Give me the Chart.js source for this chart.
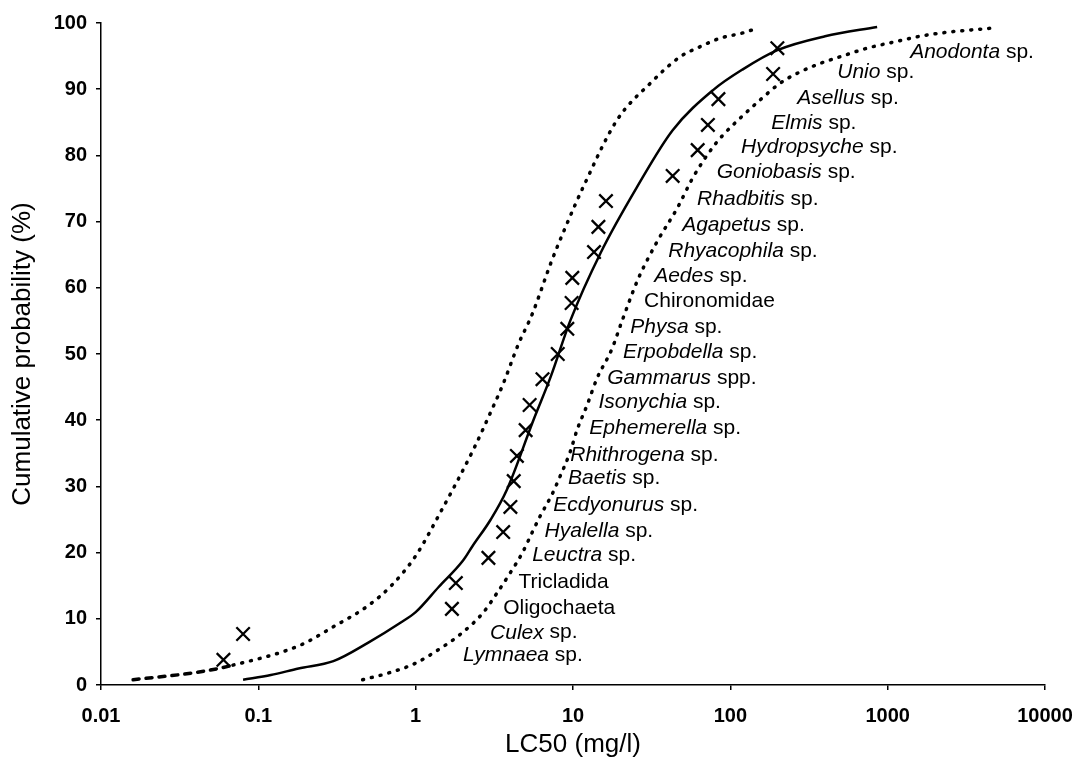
<!DOCTYPE html>
<html>
<head>
<meta charset="utf-8">
<script src="https://cdn.jsdelivr.net/npm/chart.js@4.4.1/dist/chart.umd.min.js"></script>
<style>
  html, body { margin: 0; padding: 0; background: #fff; }
  #wrap { width: 1080px; height: 772px; }
</style>
</head>
<body>
<div id="wrap"><canvas id="myChart" width="1080" height="772"></canvas></div>
<script>
// axis ticks
var xTicks = [0.01, 0.1, 1, 10, 100, 1000, 10000];
var xTickLabels = ['0.01', '0.1', '1', '10', '100', '1000', '10000'];

// observed LC50 values (crosses)
var lc50 = [0.06, 0.08, 1.7, 1.8, 2.9, 3.6, 4.0, 4.2, 4.4, 5.0, 5.3, 6.4, 8.0, 9.2, 9.8, 9.9, 13.6, 14.5, 16.2, 43, 62, 72, 84, 187, 199];
var cumProb = [3.8, 7.7, 11.5, 15.4, 19.2, 23.1, 26.9, 30.8, 34.6, 38.5, 42.3, 46.2, 50.0, 53.8, 57.7, 61.5, 65.4, 69.2, 73.1, 76.9, 80.8, 84.6, 88.5, 92.3, 96.2];

// fitted curve (solid)
var fitX = [0.08, 0.12, 0.18, 0.3, 0.5, 0.8, 1, 1.4, 2, 2.3, 3, 3.8, 5.6, 7.2, 9.6, 15, 25.5, 43, 78, 120, 199, 400, 857];
var fitY = [0.8, 1.5, 2.5, 3.6, 6.4, 9.4, 11, 14.8, 18.8, 21, 25, 29.5, 40, 46.5, 55, 65.3, 75.2, 83.8, 89.9, 93, 95.9, 98, 99.4];

// lower confidence limit (left dotted)
var lowX = [0.016, 0.043, 0.069, 0.184, 0.3, 0.5, 0.7, 1.0, 1.43, 2.32, 2.97, 3.6, 4.5, 5.5, 7.3, 8.9, 11.6, 19, 31, 48, 64, 86, 120, 148];
var lowY = [0.8, 2.0, 3.0, 6.0, 8.8, 12, 15, 19.5, 26, 35.5, 41, 45.5, 51.5, 56, 64, 69, 75.2, 85.3, 90.9, 94.9, 96.4, 97.7, 98.5, 99.2];

// upper confidence limit (right dotted)
var upX = [0.46, 0.67, 1.0, 1.43, 1.91, 2.68, 3.29, 3.98, 4.75, 5.49, 6.18, 7.36, 8.2, 9.59, 10.6, 12.3, 14.2, 17.7, 20.5, 25.9, 34.3, 45.9, 58, 77.8, 90, 120, 155, 207, 266, 373, 499, 741, 1084, 1611, 2388, 4490];
var upY = [0.8, 1.8, 3.3, 5.5, 7.6, 10.9, 13.9, 16.9, 19.9, 23, 25.5, 28.8, 31.3, 35.2, 38.5, 42.3, 46.3, 50.8, 55, 61.3, 67, 72, 76.7, 81.3, 83.1, 86, 88.4, 90.9, 92.4, 93.9, 94.9, 96.2, 97.1, 98, 98.6, 99.2];

// species labels, bottom to top: [italic part, plain part]
var speciesNames = [
    ['Lymnaea', ' sp.'], ['Culex', ' sp.'], ['', 'Oligochaeta'], ['', 'Tricladida'],
    ['Leuctra', ' sp.'], ['Hyalella', ' sp.'], ['Ecdyonurus', ' sp.'], ['Baetis', ' sp.'],
    ['Rhithrogena', ' sp.'], ['Ephemerella', ' sp.'], ['Isonychia', ' sp.'], ['Gammarus', ' spp.'],
    ['Erpobdella', ' sp.'], ['Physa', ' sp.'], ['', 'Chironomidae'], ['Aedes', ' sp.'],
    ['Rhyacophila', ' sp.'], ['Agapetus', ' sp.'], ['Rhadbitis', ' sp.'], ['Goniobasis', ' sp.'],
    ['Hydropsyche', ' sp.'], ['Elmis', ' sp.'], ['Asellus', ' sp.'], ['Unio', ' sp.'], ['Anodonta', ' sp.']
];
var labelX = [2.0, 2.97, 3.6, 4.5, 5.5, 6.6, 7.5, 9.3, 9.6, 12.7, 14.5, 16.5, 20.8, 23.1, 28.3, 32.8, 40.3, 49.4, 61.5, 82, 117, 182, 266, 478, 1390];
var labelY = [4.5, 7.9, 11.6, 15.6, 19.6, 23.3, 27.2, 31.3, 34.7, 38.8, 42.7, 46.4, 50.3, 54.1, 58.0, 61.8, 65.6, 69.5, 73.4, 77.5, 81.3, 84.9, 88.7, 92.6, 95.6];

function toPoints(xs, ys) {
    var pts = [];
    for (var i = 0; i < xs.length; i++) {
        pts.push({ x: xs[i], y: ys[i] });
    }
    return pts;
}

var FONT = '"Liberation Sans", Arial, sans-serif';

// draws the species names next to the curves
var speciesLabels = {
    id: 'speciesLabels',
    afterDatasetsDraw: function(chart) {
        var ctx = chart.ctx;
        var xs = chart.scales.x;
        var ys = chart.scales.y;
        ctx.save();
        ctx.fillStyle = '#000';
        ctx.textBaseline = 'middle';
        ctx.textAlign = 'left';
        for (var i = 0; i < speciesNames.length; i++) {
            var px = xs.getPixelForValue(labelX[i]);
            var py = ys.getPixelForValue(labelY[i]);
            var it = speciesNames[i][0];
            var rest = speciesNames[i][1];
            if (it) {
                ctx.font = 'italic 21px ' + FONT;
                ctx.fillText(it, px, py);
                px += ctx.measureText(it).width;
            }
            ctx.font = '21px ' + FONT;
            ctx.fillText(rest, px, py);
        }
        ctx.restore();
    }
};

var bgWhite = {
    id: 'bgWhite',
    beforeDraw: function(chart) {
        var ctx = chart.ctx;
        ctx.save();
        ctx.fillStyle = '#fff';
        ctx.fillRect(0, 0, chart.width, chart.height);
        ctx.restore();
    }
};

var dotted = [1, 8];
var dashed = [6, 7];

var ctx = document.getElementById('myChart').getContext('2d');
var myChart = new Chart(ctx, {
    type: 'scatter',
    data: {
        datasets: [{
            label: 'fit',
            data: toPoints(fitX, fitY),
            showLine: true,
            borderColor: '#000',
            borderWidth: 2.5,
            pointRadius: 0,
            cubicInterpolationMode: 'monotone'
        }, {
            label: 'lower',
            data: toPoints(lowX, lowY),
            showLine: true,
            borderColor: '#000',
            borderWidth: 3.5,
            borderDash: dotted,
            borderCapStyle: 'round',
            pointRadius: 0,
            cubicInterpolationMode: 'monotone',
            segment: {
                // the flat tail at the low end is drawn with short dashes
                borderDash: function(c) { return c.p0.parsed.x < 0.06 ? dashed : dotted; }
            }
        }, {
            label: 'upper',
            data: toPoints(upX, upY),
            showLine: true,
            borderColor: '#000',
            borderWidth: 3.5,
            borderDash: dotted,
            borderCapStyle: 'round',
            pointRadius: 0,
            cubicInterpolationMode: 'monotone'
        }, {
            label: 'LC50',
            data: toPoints(lc50, cumProb),
            showLine: false,
            pointStyle: 'crossRot',
            pointRadius: 9.5,
            borderColor: '#000',
            borderWidth: 2.3
        }]
    },
    options: {
        responsive: false,
        animation: false,
        layout: { padding: { top: 23, right: 35, bottom: 0, left: 0 } },
        plugins: {
            legend: { display: false },
            tooltip: { enabled: false }
        },
        scales: {
            x: {
                type: 'logarithmic',
                min: 0.01,
                max: 10000,
                afterBuildTicks: function(scale) {
                    scale.ticks = xTicks.map(function(v) { return { value: v }; });
                },
                afterFit: function(scale) {
                    scale.height = 87;
                    scale.paddingLeft = 0;
                    scale.paddingRight = 0;
                },
                ticks: {
                    autoSkip: false,
                    maxRotation: 0,
                    padding: 14,
                    color: '#000',
                    font: { family: FONT, size: 20, weight: 'bold' },
                    callback: function(value) {
                        var k = xTicks.indexOf(value);
                        return k >= 0 ? xTickLabels[k] : '';
                    }
                },
                grid: { display: true, drawOnChartArea: false, drawTicks: true, tickLength: 5, color: '#000', lineWidth: 1.5 },
                border: { display: true, color: '#000', width: 1.5 },
                title: {
                    display: true,
                    text: 'LC50 (mg/l)',
                    color: '#000',
                    font: { family: FONT, size: 26 },
                    padding: { top: 0, bottom: 12 }
                }
            },
            y: {
                type: 'linear',
                min: 0,
                max: 100,
                afterFit: function(scale) { scale.width = 101; },
                ticks: {
                    stepSize: 10,
                    padding: 9,
                    color: '#000',
                    font: { family: FONT, size: 20, weight: 'bold' }
                },
                grid: { display: true, drawOnChartArea: false, drawTicks: true, tickLength: 5, color: '#000', lineWidth: 1.5 },
                border: { display: true, color: '#000', width: 1.5 },
                title: {
                    display: true,
                    text: 'Cumulative probability (%)',
                    color: '#000',
                    font: { family: FONT, size: 26 },
                    padding: { top: 7, bottom: 0 }
                }
            }
        }
    },
    plugins: [bgWhite, speciesLabels]
});
</script>
</body>
</html>
